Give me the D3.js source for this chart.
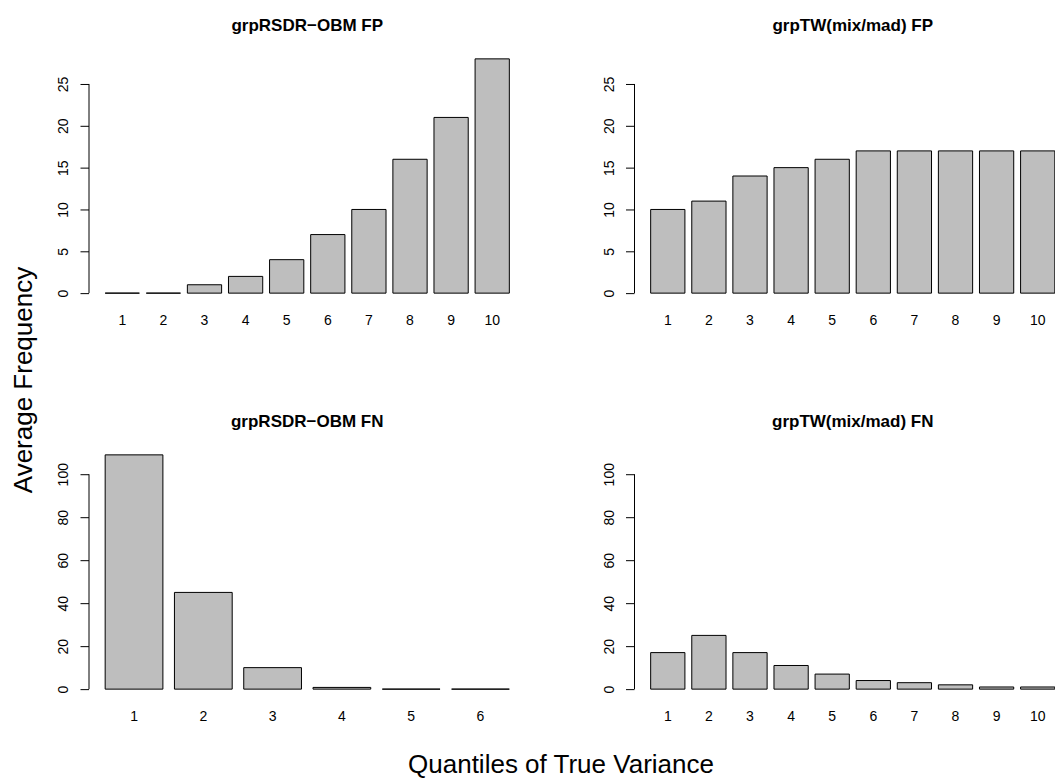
<!DOCTYPE html>
<html lang="en">
<head>
  <meta charset="UTF-8">
  <title>Average Frequency by Quantiles of True Variance</title>
  <script src="https://d3js.org/d3.v7.min.js"></script>
  <style>
    body {
      margin: 0;
      background-color: white;
      font-family: "Liberation Sans", Arial, Helvetica, sans-serif;
    }
    .bar {
      fill: #bebebe;
      stroke: black;
      stroke-width: 1;
    }
    .tick-label {
      font-size: 14px;
      fill: black;
    }
    .panel-title {
      font-size: 17px;
      font-weight: bold;
    }
    .outer-label {
      font-size: 26px;
    }
  </style>
</head>
<body>
  <svg width="1055" height="780"></svg>
  <script>
    // values
    const fpRsdr = [0, 0, 1, 2, 4, 7, 10, 16, 21, 28];
    const fpTw = [10, 11, 14, 15, 16, 17, 17, 17, 17, 17];
    const fnRsdr = [109, 45, 10, 0.8, 0, 0];
    const fnTw = [17, 25, 17, 11, 7, 4, 3, 2, 1, 1];

    const titles = ["grpRSDR\u2212OBM FP", "grpTW(mix/mad) FP", "grpRSDR\u2212OBM FN", "grpTW(mix/mad) FN"];
    const topTicks = [0, 5, 10, 15, 20, 25];
    const bottomTicks = [0, 20, 40, 60, 80, 100];

    const svg = d3.select("svg");

    // plot regions (R style layout, 2x2)
    const plotW = 436.5, plotH = 253;
    const colX = [89, 634.5];
    const rowY = [49.5, 445.5];

    const panels = [
      { values: fpRsdr, title: titles[0], col: 0, row: 0, ymax: 28, ticks: topTicks },
      { values: fpTw, title: titles[1], col: 1, row: 0, ymax: 28, ticks: topTicks },
      { values: fnRsdr, title: titles[2], col: 0, row: 1, ymax: 109, ticks: bottomTicks },
      { values: fnTw, title: titles[3], col: 1, row: 1, ymax: 109, ticks: bottomTicks }
    ];

    panels.forEach(p => {
      const n = p.values.length;
      const x0 = colX[p.col], y0 = rowY[p.row];
      const g = svg.append("g").attr("transform", `translate(${x0},${y0})`);

      // barplot: width 1, space 0.2, axis range extended by 4%
      const lo = 0.2, hi = 1.2 * n;
      const padX = 0.04 * (hi - lo);
      const x = d3.scaleLinear().domain([lo - padX, hi + padX]).range([0, plotW]);
      const padY = 0.04 * p.ymax;
      const y = d3.scaleLinear().domain([-padY, p.ymax + padY]).range([plotH, 0]);

      // paths so that zero-height bars still show their outline
      g.selectAll(".bar")
        .data(p.values)
        .enter()
        .append("path")
        .attr("class", "bar")
        .attr("d", (d, i) => {
          const xl = x(0.2 + 1.2 * i), xr = x(1.2 + 1.2 * i);
          return `M${xl},${y(0)}L${xr},${y(0)}L${xr},${y(d)}L${xl},${y(d)}Z`;
        });

      // bar labels under the bars
      g.selectAll(".xlab")
        .data(p.values)
        .enter()
        .append("text")
        .attr("class", "tick-label")
        .attr("text-anchor", "middle")
        .attr("x", (d, i) => x(0.7 + 1.2 * i))
        .attr("y", plotH + 22.5)
        .text((d, i) => i + 1);

      // y axis
      const yAxis = d3.axisLeft(y).tickValues(p.ticks).tickSize(8.5).tickSizeOuter(0).tickFormat(d3.format("d"));
      const ax = g.append("g").call(yAxis);
      ax.select(".domain").remove();
      ax.selectAll(".tick line").attr("stroke", "black");
      ax.selectAll(".tick text")
        .attr("class", "tick-label")
        .attr("x", null).attr("dy", null)
        .attr("text-anchor", "middle")
        .attr("transform", "translate(-21,0) rotate(-90)")
        .style("font-size", "14px")
        .style("font-family", "inherit");
      g.append("line")
        .attr("x1", 0).attr("x2", 0)
        .attr("y1", y(p.ticks[0])).attr("y2", y(p.ticks[p.ticks.length - 1]))
        .attr("stroke", "black");

      g.append("text")
        .attr("class", "panel-title")
        .attr("text-anchor", "middle")
        .attr("x", plotW / 2)
        .attr("y", -19)
        .text(p.title);
    });

    svg.append("text")
      .attr("class", "outer-label")
      .attr("text-anchor", "middle")
      .attr("transform", "translate(32,380) rotate(-90)")
      .text("Average Frequency");

    svg.append("text")
      .attr("class", "outer-label")
      .attr("text-anchor", "middle")
      .attr("x", 561)
      .attr("y", 773)
      .text("Quantiles of True Variance");
  </script>
</body>
</html>
